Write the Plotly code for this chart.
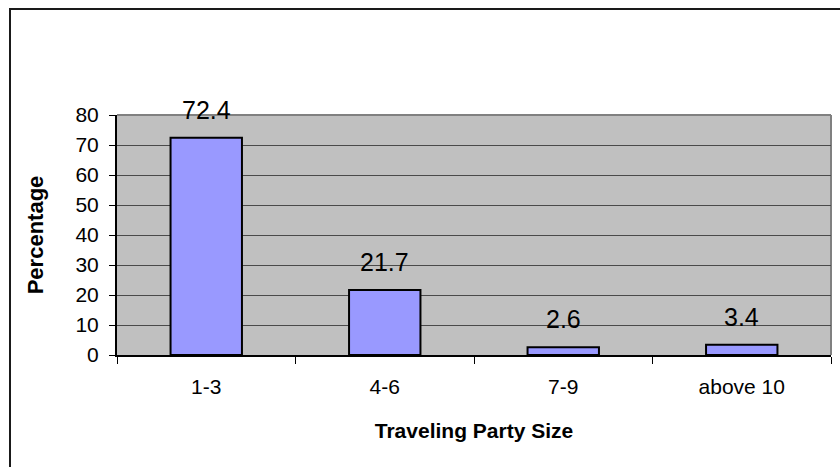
import plotly.graph_objects as go

# Share of visitors by traveling party size
categories = ["1-3", "4-6", "7-9", "above 10"]
percentages = [72.4, 21.7, 2.6, 3.4]
y_ticks = [0, 10, 20, 30, 40, 50, 60, 70, 80]

FONT = "Arial, Liberation Sans, Helvetica, sans-serif"

fig = go.Figure()
fig.add_trace(go.Bar(
    x=categories,
    y=percentages,
    width=0.4,
    marker=dict(color="#9999FF", line=dict(color="#000000", width=2)),
    hoverinfo="x+y",
))

# Value labels above each bar
for cat, val in zip(categories, percentages):
    fig.add_annotation(
        x=cat, y=val, text=f"{val}", showarrow=False,
        xanchor="center", yanchor="bottom", yshift=12,
        font=dict(family=FONT, size=25, color="#000000"),
    )

L, R, T, B = 117, 9, 115, 112
W, H = 840, 467
pw, ph = W - L - R, H - T - B

# Outer chart frame (left and top edges in view)
fx0 = (10 - L) / pw
fy1 = (H - B - 9) / ph
fig.add_shape(type="rect", xref="paper", yref="paper",
              x0=fx0, x1=(W + 20 - L) / pw, y0=-(B + 20) / ph, y1=fy1,
              line=dict(color="#1a1a1a", width=2), layer="below")
# Plot-area border on top and right
fig.add_shape(type="line", xref="paper", yref="paper", x0=0, x1=1, y0=1, y1=1,
              line=dict(color="#808080", width=2), layer="below")
fig.add_shape(type="line", xref="paper", yref="paper", x0=1, x1=1, y0=0, y1=1,
              line=dict(color="#808080", width=2), layer="below")

fig.update_layout(
    width=W, height=H,
    margin=dict(l=L, r=R, t=T, b=B),
    paper_bgcolor="#FFFFFF",
    plot_bgcolor="#C0C0C0",
    showlegend=False,
    bargap=0.6,
    font=dict(family=FONT, color="#000000"),
    xaxis=dict(
        type="category",
        tickson="boundaries",
        ticks="outside", ticklen=7, tickcolor="#000000", tickwidth=1,
        showline=True, linecolor="#000000", linewidth=2,
        showgrid=False,
        tickfont=dict(family=FONT, size=21),
        ticklabelstandoff=12,
        title=dict(text="<b>Traveling Party Size</b>",
                   font=dict(family=FONT, size=21), standoff=26),
    ),
    yaxis=dict(
        range=[0, 80],
        tickvals=y_ticks,
        ticks="outside", ticklen=6, tickcolor="#000000", tickwidth=1,
        showline=True, linecolor="#000000", linewidth=2,
        showgrid=True, gridcolor="#4a4a4a", gridwidth=1,
        zeroline=False,
        tickfont=dict(family=FONT, size=21),
        ticklabelstandoff=6,
        title=dict(text="<b>Percentage</b>",
                   font=dict(family=FONT, size=22), standoff=26),
    ),
)

fig.write_html("out.html")
